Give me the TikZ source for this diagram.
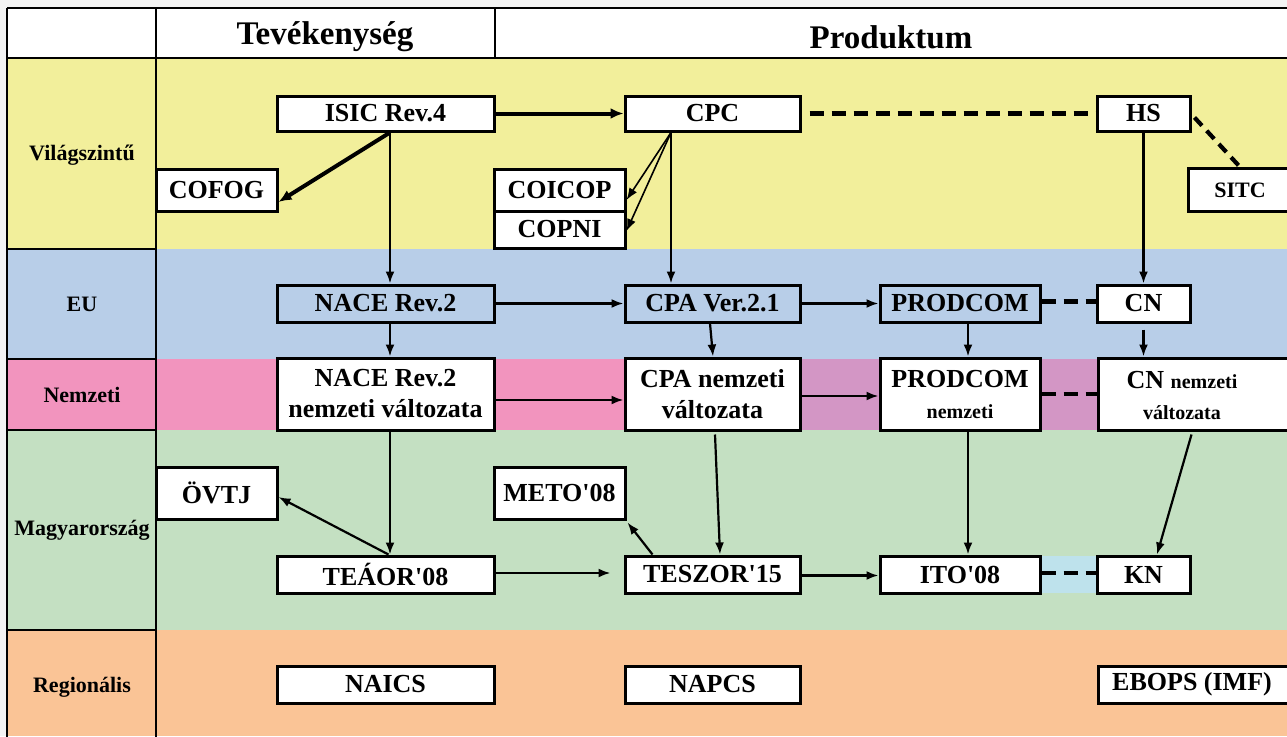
\documentclass[tikz,border=0pt]{standalone}
\usepackage{fontspec}
\setmainfont{Liberation Serif}
\usetikzlibrary{arrows.meta}
\definecolor{bggray}{RGB}{243,243,243}
\definecolor{cYellow}{RGB}{242,239,155}
\definecolor{cBlue}{RGB}{184,206,232}
\definecolor{cPink}{RGB}{242,148,190}
\definecolor{cMauve}{RGB}{211,150,197}
\definecolor{cGreen}{RGB}{196,224,194}
\definecolor{cCyan}{RGB}{190,226,236}
\definecolor{cOrange}{RGB}{250,196,150}
\newcommand{\apos}{\textquotesingle}
\begin{document}
\begin{tikzpicture}[x=1pt,y=-1pt,
  box/.style={draw=black,line width=3pt,fill=white,inner sep=0pt,align=center,
    font=\bfseries\fontsize{26}{31}\selectfont},
  clearbox/.style={box,fill=none},
  txt/.style={inner sep=0pt,align=center,font=\bfseries\fontsize{26}{31}\selectfont},
  lbl/.style={inner sep=0pt,font=\bfseries\fontsize{22}{24}\selectfont},
  hdr/.style={inner sep=0pt,font=\bfseries\fontsize{33}{36}\selectfont},
  grid/.style={line width=2.8pt,draw=black},
  arr/.style={-{Latex[length=12pt,width=9pt]},line width=2.2pt},
  thickarr/.style={-{Latex[length=13pt,width=11pt]},line width=4pt},
  dashline/.style={line width=4.2pt,dash pattern=on 14pt off 8pt},
]
\useasboundingbox (0,0) rectangle (1287,736);
% backgrounds
\fill[bggray] (0,0) rectangle (1287,736);
\fill[white] (7,8) rectangle (1287,58);
\fill[cYellow] (7,58) rectangle (1287,249);
\fill[cBlue] (7,249) rectangle (1287,359);
\fill[cPink] (7,359) rectangle (1287,430);
\fill[cMauve] (800,359) rectangle (1097,430);
\fill[cGreen] (7,430) rectangle (1287,630);
\fill[cCyan] (1040,556) rectangle (1097,593);
\fill[cOrange] (7,630) rectangle (1287,736);
% grid lines
\draw[grid] (7,8) -- (1290,8);
\draw[grid] (7,58) -- (1290,58);
\draw[grid] (7,8) -- (7,740);
\draw[grid] (156,8) -- (156,740);
\draw[grid] (495,8) -- (495,58);
\draw[grid] (7,249) -- (156,249);
\draw[grid] (7,359) -- (156,359);
\draw[grid] (7,430) -- (156,430);
\draw[grid] (7,630) -- (156,630);
% headers and row labels
\node[hdr] (h1) at (325,37) {Tevékenység};
\node[hdr] (h2) at (891,37) {Produktum};
\node[lbl] (l1) at (82,155) {Világszintű};
\node[lbl] (l2) at (82,304) {EU};
\node[lbl] (l3) at (82,395) {Nemzeti};
\node[lbl] (l4) at (82,530) {Magyarország};
\node[lbl] (l5) at (82,687) {Regionális};
% world level
\node[box,minimum width=217,minimum height=35] (isic) at (385.5,113.5) {ISIC Rev.4};
\node[box,minimum width=175,minimum height=35] (cpc) at (712.5,113.5) {CPC};
\node[box,minimum width=93,minimum height=35] (hs) at (1143.5,113.5) {HS};
\node[box,minimum width=104,minimum height=43,font=\bfseries\fontsize{22}{24}\selectfont] (sitc) at (1240,190) {SITC};
\node[box,minimum width=121,minimum height=42] (cofog) at (216.5,190) {COFOG};
\node[box,minimum width=131,minimum height=42] (coicop) at (559.5,190) {COICOP};
\node[box,minimum width=131,minimum height=37] (copni) at (559.5,229.5) {COPNI};
% EU level
\node[clearbox,minimum width=217,minimum height=37] (nace) at (385.5,303.5) {NACE Rev.2};
\node[clearbox,minimum width=175,minimum height=37] (cpa) at (712.5,303.5) {CPA Ver.2.1};
\node[clearbox,minimum width=160,minimum height=37] (prodcom) at (960,303.5) {PRODCOM};
\node[box,minimum width=93,minimum height=37] (cn) at (1143.5,303.5) {CN};
% national level
\node[box,minimum width=217,minimum height=72] (nacen) at (385.5,394) {NACE Rev.2\\nemzeti változata};
\node[box,minimum width=175,minimum height=72] (cpan) at (712.5,394) {CPA nemzeti\\változata};
\node[box,minimum width=160,minimum height=72] (prodn) at (960,394) {PRODCOM\\{\fontsize{20}{24}\selectfont nemzeti}};
\node[box,minimum width=200,minimum height=72,anchor=west] (cnn) at (1097,394) {};
\node[txt] (cnnt) at (1182,395) {CN {\fontsize{20}{24}\selectfont nemzeti}\\{\fontsize{20}{24}\selectfont változata}};
% Hungary
\node[box,minimum width=121,minimum height=52] (ovtj) at (216.5,493) {ÖVTJ};
\node[box,minimum width=131,minimum height=52] (meto) at (559.5,493) {METO\apos08};
\node[box,minimum width=217,minimum height=37] (teaor) at (385.5,574.5) {TEÁOR\apos08};
\node[box,minimum width=175,minimum height=37] (teszor) at (712.5,574.5) {TESZOR\apos15};
\node[box,minimum width=160,minimum height=37] (ito) at (960,574.5) {ITO\apos08};
\node[box,minimum width=93,minimum height=37] (kn) at (1143.5,574.5) {KN};
% regional
\node[box,minimum width=217,minimum height=37] (naics) at (385.5,684.5) {NAICS};
\node[box,minimum width=175,minimum height=37] (napcs) at (712.5,684.5) {NAPCS};
\node[box,minimum width=200,minimum height=37,anchor=west] (ebops) at (1097,684.5) {};
\node[txt] (ebopst) at (1192,684.5) {EBOPS (IMF)};
% connectors
\draw[thickarr] (isic.east) -- (cpc.west);
\draw[thickarr] ([xshift=4.5pt]isic.south) -- ([yshift=-12pt]cofog.east);
\draw[arr] ([xshift=4.5pt]isic.south) -- ([xshift=4.5pt]nace.north);
\draw[arr,line width=1.6pt] ([xshift=-41.5pt]cpc.south) -- ([yshift=-10pt]coicop.east);
\draw[arr,line width=1.6pt] ([xshift=-41.5pt]cpc.south) -- ([yshift=-1.5pt]copni.east);
\draw[arr] ([xshift=-41.5pt]cpc.south) -- ([xshift=-41.5pt]cpa.north);
\draw[dashline] ([xshift=8pt]cpc.east) -- (hs.west);
\draw[dashline,dash pattern=on 11pt off 7pt] ([xshift=3pt,yshift=-4pt]hs.east) -- (sitc.north);
\draw[arr] (hs.south) -- (cn.north);
\draw[arr] (nace.east) -- (cpa.west);
\draw[arr] (cpa.east) -- (prodcom.west);
\draw[dashline] ([yshift=2pt]prodcom.east) -- ([yshift=2pt]cn.west);
\draw[arr] ([xshift=4.5pt]nace.south) -- ([xshift=4.5pt]nacen.north);
\draw[arr] ([xshift=-2.5pt]cpa.south) -- ([xshift=0.5pt]cpan.north);
\draw[arr] ([xshift=8pt]prodcom.south) -- ([xshift=8pt]prodn.north);
\draw[arr] ([yshift=-6pt]cn.south) -- (cn.south |- cnn.north);
\draw[arr] ([yshift=-6pt]nacen.east) -- ([yshift=-6pt]cpan.west);
\draw[arr] ([yshift=-2pt]cpan.east) -- ([yshift=-2pt]prodn.west);
\draw[dashline] (prodn.east) -- (prodn.east -| cnn.west);
\draw[arr] ([xshift=4.5pt]nacen.south) -- ([xshift=4.5pt]teaor.north);
\draw[arr] ([xshift=3pt]teaor.north) -- ([yshift=-4pt]ovtj.east);
\draw[arr] ([yshift=1.5pt]teaor.east) -- ([xshift=-13pt,yshift=1.5pt]teszor.west);
\draw[arr] ([xshift=2.5pt,yshift=-3pt]cpan.south) -- ([xshift=7.5pt]teszor.north);
\draw[arr] ([xshift=-60pt]teszor.north) -- ([xshift=1pt,yshift=-2pt]meto.south east);
\draw[arr] ([yshift=-1pt]teszor.east) -- ([yshift=-1pt]ito.west);
\draw[arr] ([xshift=8pt]prodn.south) -- ([xshift=8pt]ito.north);
\draw[arr] ([yshift=-3pt]kn.east |- cnn.south) -- ([xshift=13.5pt]kn.north);
\draw[dashline] ([yshift=1.5pt]ito.east) -- ([yshift=1.5pt]kn.west);
\end{tikzpicture}
\end{document}
